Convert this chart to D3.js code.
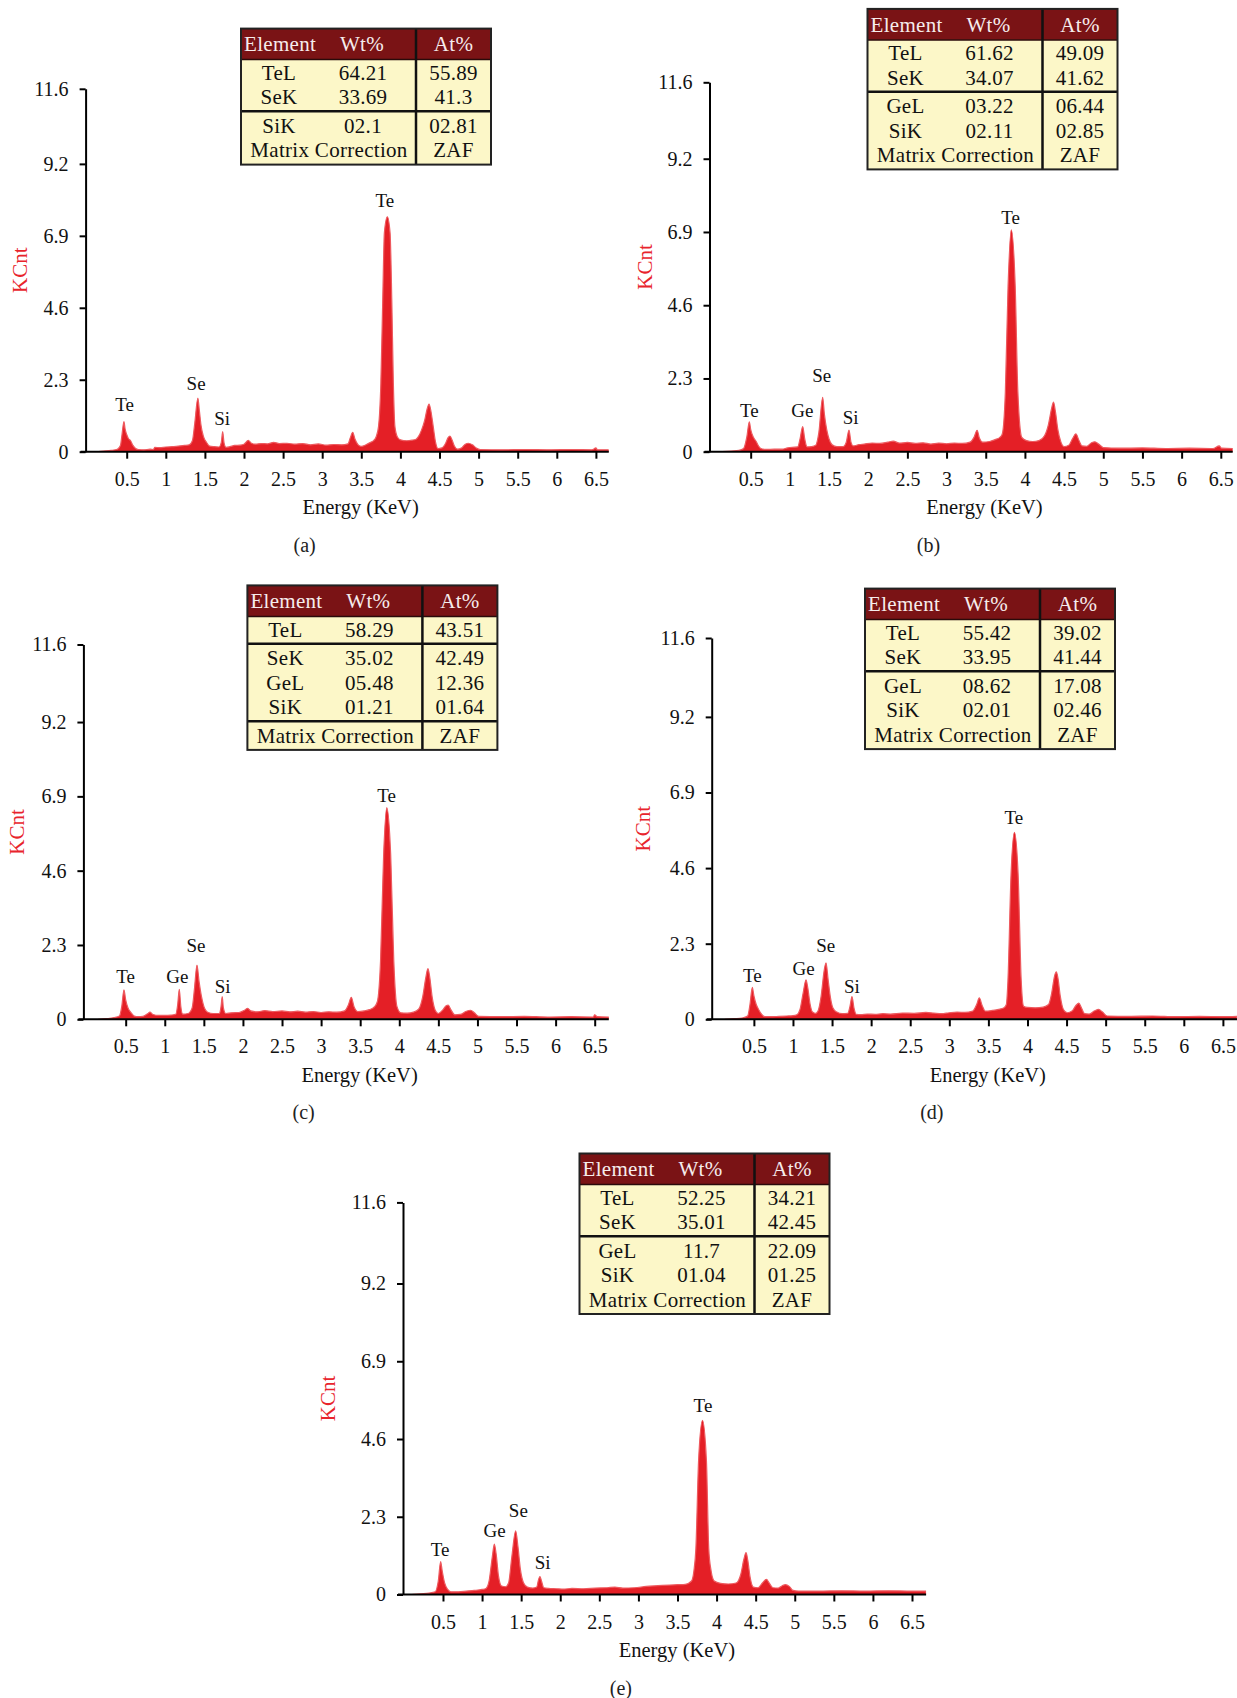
<!DOCTYPE html>
<html>
<head>
<meta charset="utf-8">
<script src="https://cdn.jsdelivr.net/npm/d3@7"></script>
<style>
  body { margin: 0; background: #fff; }
  text { font-family: 'Liberation Serif', 'Times New Roman', serif; }
</style>
</head>
<body>
<div id="chart-area"></div>
<script>
// ---- data ----
var yTicks = [0, 2.3, 4.6, 6.9, 9.2, 11.6]
var yTickLabels = ['0', '2.3', '4.6', '6.9', '9.2', '11.6']
var xTicks = [0.5, 1, 1.5, 2, 2.5, 3, 3.5, 4, 4.5, 5, 5.5, 6, 6.5]
var xTickLabels = ['0.5', '1', '1.5', '2', '2.5', '3', '3.5', '4', '4.5', '5', '5.5', '6', '6.5']
var panelNames = ['(a)', '(b)', '(c)', '(d)', '(e)']
var tableHeader = ['Element', 'Wt%', 'At%']

// spectra: [energy KeV, KCnt]
var spectrumA = [[0.12,0.00],[0.20,0.02],[0.30,0.04],[0.38,0.08],[0.42,0.20],[0.44,0.55],[0.465,0.96],[0.48,0.72],[0.50,0.55],[0.52,0.43],[0.55,0.35],[0.58,0.20],[0.61,0.11],[0.65,0.07],[0.72,0.06],[0.80,0.08],[0.84,0.07],[0.86,0.14],[0.92,0.13],[1.00,0.15],[1.08,0.16],[1.16,0.18],[1.24,0.20],[1.30,0.22],[1.34,0.35],[1.37,0.90],[1.41,1.71],[1.43,1.30],[1.45,0.85],[1.48,0.50],[1.52,0.30],[1.56,0.18],[1.62,0.16],[1.68,0.15],[1.71,0.30],[1.727,0.64],[1.745,0.28],[1.77,0.14],[1.82,0.16],[1.88,0.20],[1.95,0.21],[2.00,0.24],[2.055,0.36],[2.09,0.28],[2.15,0.24],[2.22,0.26],[2.30,0.25],[2.38,0.30],[2.45,0.26],[2.55,0.27],[2.65,0.24],[2.75,0.26],[2.85,0.22],[2.95,0.25],[3.05,0.21],[3.15,0.23],[3.25,0.22],[3.33,0.25],[3.36,0.45],[3.39,0.62],[3.42,0.40],[3.46,0.22],[3.50,0.17],[3.56,0.22],[3.62,0.30],[3.66,0.36],[3.69,0.48],[3.72,0.80],[3.75,2.19],[3.774,4.84],[3.795,7.0],[3.833,7.51],[3.868,7.0],[3.89,4.84],[3.91,2.19],[3.93,0.80],[3.96,0.48],[4.00,0.38],[4.08,0.35],[4.15,0.37],[4.20,0.40],[4.23,0.48],[4.27,0.69],[4.31,1.00],[4.34,1.35],[4.366,1.52],[4.39,1.30],[4.42,0.80],[4.45,0.30],[4.48,0.10],[4.53,0.12],[4.58,0.28],[4.61,0.45],[4.634,0.50],[4.66,0.38],[4.69,0.18],[4.73,0.08],[4.78,0.12],[4.83,0.24],[4.87,0.27],[4.92,0.22],[4.97,0.12],[5.02,0.07],[5.3,0.06],[5.6,0.07],[5.9,0.06],[6.2,0.07],[6.45,0.06],[6.50,0.12],[6.52,0.06],[6.66,0.06]]
var spectrumB = [[0.13,0.00],[0.25,0.02],[0.35,0.04],[0.41,0.10],[0.45,0.45],[0.483,0.94],[0.50,0.70],[0.535,0.45],[0.57,0.32],[0.60,0.18],[0.63,0.10],[0.70,0.07],[0.80,0.08],[0.90,0.08],[0.97,0.12],[1.03,0.14],[1.10,0.15],[1.13,0.40],[1.164,0.79],[1.19,0.40],[1.22,0.15],[1.28,0.16],[1.33,0.20],[1.37,0.60],[1.419,1.71],[1.44,1.20],[1.47,0.70],[1.50,0.40],[1.54,0.22],[1.60,0.16],[1.68,0.16],[1.72,0.30],[1.755,0.68],[1.78,0.30],[1.81,0.18],[1.88,0.22],[1.95,0.24],[2.05,0.27],[2.15,0.26],[2.25,0.30],[2.32,0.33],[2.40,0.27],[2.50,0.29],[2.60,0.26],[2.70,0.28],[2.80,0.24],[2.90,0.27],[3.00,0.25],[3.10,0.27],[3.20,0.26],[3.30,0.30],[3.35,0.45],[3.39,0.67],[3.42,0.42],[3.46,0.30],[3.55,0.32],[3.62,0.38],[3.68,0.45],[3.71,0.55],[3.75,1.87],[3.785,5.2],[3.826,6.97],[3.876,5.2],[3.91,1.87],[3.96,0.45],[4.02,0.35],[4.10,0.32],[4.18,0.35],[4.25,0.50],[4.30,0.85],[4.34,1.35],[4.365,1.56],[4.39,1.25],[4.42,0.70],[4.46,0.30],[4.50,0.16],[4.56,0.20],[4.61,0.42],[4.65,0.56],[4.69,0.35],[4.73,0.18],[4.79,0.17],[4.85,0.28],[4.894,0.31],[4.94,0.24],[5.00,0.13],[5.2,0.11],[5.5,0.12],[5.8,0.10],[6.1,0.11],[6.4,0.10],[6.48,0.18],[6.51,0.11],[6.68,0.10]]
var spectrumC = [[0.15,0.00],[0.25,0.02],[0.35,0.05],[0.42,0.10],[0.45,0.40],[0.478,0.91],[0.50,0.60],[0.53,0.35],[0.57,0.20],[0.61,0.10],[0.66,0.08],[0.72,0.09],[0.78,0.17],[0.81,0.22],[0.85,0.15],[0.92,0.12],[1.00,0.12],[1.08,0.13],[1.14,0.15],[1.165,0.45],[1.186,0.93],[1.205,0.40],[1.23,0.16],[1.30,0.18],[1.35,0.35],[1.38,0.95],[1.412,1.68],[1.44,1.15],[1.47,0.70],[1.50,0.40],[1.55,0.22],[1.62,0.18],[1.70,0.18],[1.72,0.40],[1.735,0.70],[1.75,0.35],[1.78,0.18],[1.85,0.20],[1.95,0.21],[2.02,0.28],[2.06,0.34],[2.10,0.26],[2.18,0.23],[2.28,0.27],[2.38,0.24],[2.50,0.26],[2.60,0.23],[2.70,0.25],[2.80,0.22],[2.90,0.24],[3.00,0.21],[3.10,0.23],[3.20,0.22],[3.30,0.26],[3.35,0.45],[3.386,0.68],[3.42,0.40],[3.47,0.24],[3.55,0.26],[3.62,0.30],[3.68,0.38],[3.72,0.55],[3.76,1.79],[3.80,5.1],[3.84,6.55],[3.89,5.1],[3.93,1.79],[3.97,0.40],[4.02,0.20],[4.10,0.19],[4.18,0.22],[4.25,0.32],[4.30,0.70],[4.34,1.30],[4.367,1.57],[4.39,1.30],[4.42,0.70],[4.46,0.28],[4.50,0.18],[4.56,0.30],[4.60,0.42],[4.626,0.44],[4.66,0.30],[4.71,0.14],[4.78,0.15],[4.85,0.24],[4.914,0.28],[4.96,0.20],[5.02,0.09],[5.3,0.08],[5.6,0.09],[5.9,0.07],[6.2,0.08],[6.48,0.07],[6.50,0.14],[6.53,0.08],[6.68,0.07]]
var spectrumD = [[0.13,0.00],[0.25,0.02],[0.35,0.04],[0.42,0.10],[0.45,0.45],[0.48,0.97],[0.50,0.72],[0.53,0.45],[0.56,0.30],[0.60,0.15],[0.64,0.08],[0.72,0.08],[0.82,0.09],[0.92,0.10],[1.00,0.11],[1.05,0.14],[1.09,0.30],[1.13,0.80],[1.167,1.20],[1.19,0.95],[1.22,0.45],[1.25,0.22],[1.29,0.18],[1.32,0.25],[1.36,0.70],[1.40,1.50],[1.423,1.72],[1.45,1.20],[1.48,0.65],[1.51,0.35],[1.56,0.22],[1.63,0.17],[1.70,0.18],[1.73,0.40],[1.755,0.69],[1.78,0.35],[1.81,0.15],[1.87,0.14],[1.95,0.16],[2.05,0.15],[2.15,0.17],[2.25,0.16],[2.40,0.19],[2.55,0.18],[2.70,0.21],[2.80,0.19],[2.90,0.17],[3.00,0.20],[3.10,0.22],[3.20,0.21],[3.30,0.25],[3.35,0.45],[3.384,0.65],[3.42,0.42],[3.46,0.25],[3.55,0.27],[3.63,0.30],[3.70,0.35],[3.73,0.45],[3.75,1.17],[3.79,4.42],[3.833,5.69],[3.88,4.42],[3.92,1.17],[3.95,0.40],[4.00,0.36],[4.10,0.35],[4.20,0.37],[4.27,0.45],[4.31,0.80],[4.345,1.30],[4.369,1.44],[4.39,1.25],[4.42,0.70],[4.46,0.30],[4.51,0.20],[4.57,0.25],[4.62,0.42],[4.657,0.49],[4.69,0.35],[4.73,0.17],[4.79,0.16],[4.86,0.26],[4.91,0.30],[4.96,0.22],[5.02,0.10],[5.3,0.09],[5.6,0.10],[5.9,0.08],[6.2,0.09],[6.5,0.08],[6.68,0.09]]
var spectrumE = [[0.10,0.00],[0.22,0.02],[0.32,0.04],[0.40,0.08],[0.44,0.40],[0.47,0.97],[0.49,0.70],[0.52,0.35],[0.56,0.15],[0.60,0.08],[0.70,0.08],[0.80,0.10],[0.90,0.12],[1.00,0.15],[1.05,0.18],[1.09,0.40],[1.13,1.10],[1.157,1.49],[1.18,1.20],[1.21,0.55],[1.25,0.25],[1.30,0.23],[1.34,0.35],[1.38,1.10],[1.43,1.88],[1.46,1.40],[1.49,0.75],[1.53,0.35],[1.58,0.22],[1.65,0.19],[1.70,0.22],[1.72,0.42],[1.741,0.53],[1.76,0.40],[1.79,0.20],[1.85,0.18],[1.95,0.17],[2.05,0.16],[2.15,0.18],[2.30,0.17],[2.45,0.19],[2.60,0.20],[2.70,0.22],[2.80,0.19],[2.95,0.20],[3.10,0.24],[3.25,0.26],[3.40,0.28],[3.50,0.29],[3.60,0.30],[3.68,0.40],[3.71,0.70],[3.735,1.35],[3.77,3.97],[3.82,5.15],[3.87,3.97],[3.90,1.35],[3.93,0.70],[3.97,0.40],[4.05,0.33],[4.15,0.31],[4.25,0.34],[4.31,0.60],[4.35,1.05],[4.377,1.24],[4.40,1.00],[4.43,0.50],[4.47,0.22],[4.53,0.20],[4.59,0.35],[4.638,0.45],[4.67,0.35],[4.72,0.20],[4.79,0.19],[4.84,0.26],[4.883,0.29],[4.93,0.24],[4.98,0.12],[5.05,0.10],[5.3,0.10],[5.6,0.11],[5.9,0.10],[6.2,0.11],[6.5,0.10],[6.68,0.10]]

// peak labels: [text, energy, KCnt]
var labelsA = [['Te', 0.473, 1.52], ['Se', 1.387, 2.18], ['Si', 1.72, 1.07], ['Te', 3.80, 8.03]]
var labelsB = [['Te', 0.483, 1.31], ['Ge', 1.159, 1.31], ['Se', 1.406, 2.41], ['Si', 1.777, 1.08], ['Te', 3.817, 7.35]]
var labelsC = [['Te', 0.50, 1.32], ['Ge', 1.16, 1.32], ['Se', 1.40, 2.30], ['Si', 1.74, 1.01], ['Te', 3.838, 6.94]]
var labelsD = [['Te', 0.48, 1.35], ['Ge', 1.137, 1.55], ['Se', 1.418, 2.26], ['Si', 1.755, 1.01], ['Te', 3.826, 6.13]]
var labelsE = [['Te', 0.462, 1.34], ['Ge', 1.16, 1.91], ['Se', 1.464, 2.48], ['Si', 1.775, 0.94], ['Te', 3.826, 5.61]]

// composition tables: [element, Wt%, At%]
var tableA = [['TeL', '64.21', '55.89'], ['SeK', '33.69', '41.3'], ['SiK', '02.1', '02.81'], ['Matrix Correction', '', 'ZAF']]
var tableB = [['TeL', '61.62', '49.09'], ['SeK', '34.07', '41.62'], ['GeL', '03.22', '06.44'], ['SiK', '02.11', '02.85'], ['Matrix Correction', '', 'ZAF']]
var tableC = [['TeL', '58.29', '43.51'], ['SeK', '35.02', '42.49'], ['GeL', '05.48', '12.36'], ['SiK', '01.21', '01.64'], ['Matrix Correction', '', 'ZAF']]
var tableD = [['TeL', '55.42', '39.02'], ['SeK', '33.95', '41.44'], ['GeL', '08.62', '17.08'], ['SiK', '02.01', '02.46'], ['Matrix Correction', '', 'ZAF']]
var tableE = [['TeL', '52.25', '34.21'], ['SeK', '35.01', '42.45'], ['GeL', '11.7', '22.09'], ['SiK', '01.04', '01.25'], ['Matrix Correction', '', 'ZAF']]
// rows that get a rule line above them
var rulesA = [2]
var rulesB = [2]
var rulesC = [1, 4]
var rulesD = [2]
var rulesE = [2]

// ---- layout (pixels) ----
var panels = [
  {name: panelNames[0], spec: spectrumA, labels: labelsA, table: tableA, rules: rulesA,
    axisX: 85.6, e0: 87.6, e65: 595.9, xEnd: 608.8, y0: 451.7, yTop: 88.8, kcntDx: -66, tx: 241, ty: 28.6},
  {name: panelNames[1], spec: spectrumB, labels: labelsB, table: tableB, rules: rulesB,
    axisX: 709.5, e0: 711.5, e65: 1220.8, xEnd: 1232.7, y0: 451.7, yTop: 82.3, kcntDx: -65, tx: 867.5, ty: 8.9},
  {name: panelNames[2], spec: spectrumC, labels: labelsC, table: tableC, rules: rulesC,
    axisX: 83.4, e0: 86.6, e65: 594.7, xEnd: 608.8, y0: 1019.3, yTop: 644.5, kcntDx: -67, tx: 247.4, ty: 585.4},
  {name: panelNames[3], spec: spectrumD, labels: labelsD, table: tableD, rules: rulesD,
    axisX: 711.7, e0: 714.8, e65: 1222.9, xEnd: 1237, y0: 1019.3, yTop: 638, kcntDx: -69, tx: 865, ty: 588.6},
  {name: panelNames[4], spec: spectrumE, labels: labelsE, table: tableE, rules: rulesE,
    axisX: 403, e0: 403.9, e65: 912, xEnd: 926.1, y0: 1594.5, yTop: 1202.4, kcntDx: -75, tx: 579.5, ty: 1153.5}
]

var red = '#e41f26'
var headRed = '#7a1315'
var cream = '#fcf7c8'
var tableFont = '21px'

var svg = d3.select('#chart-area')
  .append('svg')
  .attr('width', 1237)
  .attr('height', 1698)

svg.append('rect').attr('width', 1237).attr('height', 1698).attr('fill', '#fff')

panels.forEach(function (p, i) {
  var g = svg.append('g')

  var x = d3.scaleLinear().domain([0, 6.5]).range([p.e0, p.e65])
  var y = d3.scaleLinear().domain([0, 11.6]).range([p.y0, p.yTop])
  var eMax = x.invert(p.xEnd)

  // clip so the spectrum stops at the end of the axis
  g.append('clipPath').attr('id', 'clip' + i)
    .append('rect')
    .attr('x', p.axisX).attr('y', p.yTop - 40)
    .attr('width', p.xEnd - p.axisX).attr('height', p.y0 - p.yTop + 40)

  var area = d3.area()
    .curve(d3.curveMonotoneX)
    .x(function (d) { return x(Math.min(d[0], eMax)) })
    .y0(y(0))
    .y1(function (d) { return y(d[1]) })

  g.append('path')
    .datum(p.spec)
    .attr('clip-path', 'url(#clip' + i + ')')
    .attr('d', area)
    .attr('fill', red)
    .attr('stroke', '#ee5a5f')
    .attr('stroke-width', 1.2)
    .attr('stroke-linejoin', 'round')

  // y axis
  var yAxis = g.append('g')
    .attr('transform', 'translate(' + p.axisX + ',0)')
    .call(d3.axisLeft(y).tickValues(yTicks)
      .tickFormat(function (d, j) { return yTickLabels[j] })
      .tickSize(6).tickSizeOuter(0).tickPadding(11))
  yAxis.select('.domain').attr('stroke-width', 2).attr('stroke', '#000')
  yAxis.selectAll('.tick line').attr('stroke-width', 2).attr('stroke', '#000')
  yAxis.selectAll('text').attr('font-size', '20px').attr('fill', '#111')
    .style('font-family', "'Liberation Serif', serif")

  // x axis
  var xAxis = g.append('g')
    .attr('transform', 'translate(0,' + p.y0 + ')')
    .call(d3.axisBottom(x).tickValues(xTicks)
      .tickFormat(function (d, j) { return xTickLabels[j] })
      .tickSize(7).tickSizeOuter(0).tickPadding(13))
  xAxis.select('.domain').remove()
  xAxis.append('line')
    .attr('x1', p.axisX - 5).attr('x2', p.xEnd)
    .attr('stroke', '#000').attr('stroke-width', 2)
  xAxis.selectAll('.tick line').attr('stroke-width', 2).attr('stroke', '#000')
  xAxis.selectAll('text').attr('font-size', '20px').attr('fill', '#111')
    .style('font-family', "'Liberation Serif', serif")

  // axis titles
  g.append('text')
    .attr('x', p.e0 + 273)
    .attr('y', p.y0 + 55.2)
    .attr('dy', '0.35em')
    .attr('text-anchor', 'middle')
    .attr('font-size', '20.5px')
    .attr('fill', '#111')
    .text('Energy (KeV)')

  g.append('text')
    .attr('transform', 'translate(' + (p.axisX + p.kcntDx) + ',' + ((p.y0 + p.yTop) / 2) + ') rotate(-90)')
    .attr('dy', '0.35em')
    .attr('text-anchor', 'middle')
    .attr('font-size', '21px')
    .attr('fill', '#e8242c')
    .text('KCnt')

  g.append('text')
    .attr('x', p.e0 + 217)
    .attr('y', p.y0 + 93)
    .attr('dy', '0.35em')
    .attr('text-anchor', 'middle')
    .attr('font-size', '20px')
    .attr('fill', '#222')
    .text(p.name)

  // peak labels
  g.selectAll('.peak')
    .data(p.labels)
    .enter().append('text')
    .attr('class', 'peak')
    .attr('x', function (d) { return x(d[1]) })
    .attr('y', function (d) { return y(d[2]) })
    .attr('dy', '0.35em')
    .attr('text-anchor', 'middle')
    .attr('font-size', '19px')
    .attr('fill', '#111')
    .text(function (d) { return d[0] })

  drawTable(g, p)
})

function drawTable (g, p) {
  var w = 250
  var div = 175
  var headH = 31
  var pitch = 24.5
  var ruleGap = 4
  var tx = p.tx
  var ty = p.ty
  var headBottom = ty + headH

  // row centres
  var rowY = []
  var cy = headBottom + 13
  p.table.forEach(function (r, j) {
    if (j > 0) cy += pitch + (p.rules.indexOf(j) >= 0 ? ruleGap : 0)
    rowY.push(cy)
  })
  var bottom = rowY[rowY.length - 1] + 14.5

  var t = g.append('g')
  t.append('rect')
    .attr('x', tx).attr('y', ty).attr('width', w).attr('height', bottom - ty)
    .attr('fill', cream)
  t.append('rect')
    .attr('x', tx).attr('y', ty).attr('width', w).attr('height', headH)
    .attr('fill', headRed)

  // rules between groups
  p.rules.forEach(function (j) {
    var ly = (rowY[j - 1] + rowY[j]) / 2
    t.append('line')
      .attr('x1', tx).attr('x2', tx + w).attr('y1', ly).attr('y2', ly)
      .attr('stroke', '#111').attr('stroke-width', 2.5)
  })
  t.append('line')
    .attr('x1', tx).attr('x2', tx + w).attr('y1', headBottom).attr('y2', headBottom)
    .attr('stroke', '#2a0a0a').attr('stroke-width', 1.5)
  t.append('line')
    .attr('x1', tx + div).attr('x2', tx + div).attr('y1', ty).attr('y2', bottom)
    .attr('stroke', '#111').attr('stroke-width', 2.5)
  t.append('rect')
    .attr('x', tx).attr('y', ty).attr('width', w).attr('height', bottom - ty)
    .attr('fill', 'none').attr('stroke', '#222').attr('stroke-width', 2)

  function cell (xx, yy, str, anchor, color) {
    t.append('text').attr('x', xx).attr('y', yy).attr('dy', '0.35em')
      .attr('text-anchor', anchor)
      .attr('font-size', tableFont)
      .attr('letter-spacing', '0.3px')
      .attr('fill', color)
      .text(str)
  }

  // header
  var hy = ty + headH / 2
  cell(tx + 3, hy, tableHeader[0], 'start', '#f6ecec')
  cell(tx + 121, hy, tableHeader[1], 'middle', '#f6ecec')
  cell(tx + div + (w - div) / 2, hy, tableHeader[2], 'middle', '#f6ecec')

  // body rows
  p.table.forEach(function (r, j) {
    var yy = rowY[j]
    if (r[1] === '') {
      cell(tx + 88, yy, r[0], 'middle', '#111')
    } else {
      cell(tx + 38, yy, r[0], 'middle', '#111')
      cell(tx + 122, yy, r[1], 'middle', '#111')
    }
    cell(tx + div + (w - div) / 2, yy, r[2], 'middle', '#111')
  })
}
</script>
</body>
</html>
